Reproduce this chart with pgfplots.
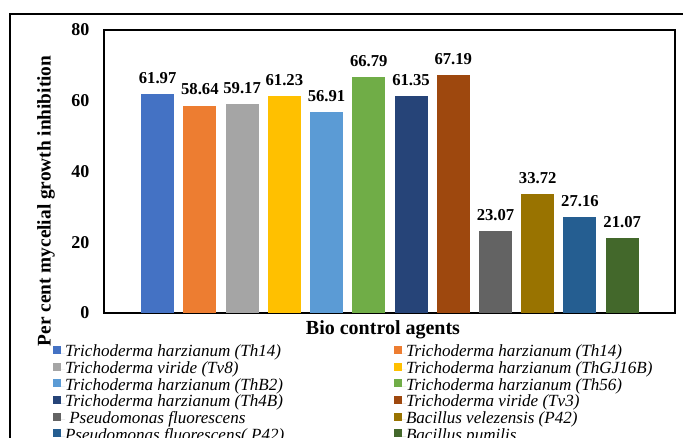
\documentclass[border=0pt]{standalone}
\usepackage{pgfplots}
\pgfplotsset{compat=1.18}
\usepackage{fontspec}
\setmainfont{Liberation Serif}
\definecolor{c1}{HTML}{4472C4}
\definecolor{c2}{HTML}{ED7D31}
\definecolor{c3}{HTML}{A5A5A5}
\definecolor{c4}{HTML}{FFC000}
\definecolor{c5}{HTML}{5B9BD5}
\definecolor{c6}{HTML}{70AD47}
\definecolor{c7}{HTML}{264478}
\definecolor{c8}{HTML}{9E480E}
\definecolor{c9}{HTML}{636363}
\definecolor{c10}{HTML}{997300}
\definecolor{c11}{HTML}{255E91}
\definecolor{c12}{HTML}{43682B}
\begin{document}
\begin{tikzpicture}
\useasboundingbox (0pt,0pt) rectangle (512.25pt,-328.5pt);
\clip (0pt,0pt) rectangle (512.25pt,-328.5pt);
\draw[line width=1.2pt] (7.5pt,-340pt) -- (7.5pt,-10.5pt) -- (520pt,-10.5pt);
\begin{axis}[
  at={(78pt,-234.75pt)}, anchor=south west,
  width=428.25pt, height=212.25pt, scale only axis,
  ybar, bar width=24.75pt, bar shift=0pt,
  xmin=-1.27, xmax=12.25, ymin=0, ymax=80,
  xtick=\empty, ytick={0,20,40,60,80},
  major tick length=0pt,
  axis line style={line width=1pt},
  /pgf/number format/assume math mode=true,
  yticklabel style={font=\bfseries\fontsize{13.5}{15}\selectfont, xshift=-7.5pt},
  nodes near coords={\pgfmathprintnumber[fixed,fixed zerofill,precision=2,assume math mode=true]{\pgfplotspointmeta}},
  every node near coord/.append style={font=\bfseries\fontsize{12.5}{14}\selectfont, anchor=base, yshift=8pt, text=black},
  legend columns=2,
  legend cell align=left,
  legend style={at={(-0.0893,-0.113)}, anchor=north west, draw=none, fill=none,
    inner sep=0pt, outer sep=0pt, row sep=0pt, column sep=0pt,
    font=\itshape\fontsize{12.8}{15}\selectfont,
    nodes={inner sep=0pt, outer sep=0pt, text height=9pt, text depth=3.5pt}},
  legend image code/.code={\fill[#1] (0pt,-0.5pt) rectangle (6pt,5.5pt); \path (0pt,0pt) -- (9pt,0pt);},
]
\addplot[fill=c1, draw=none] coordinates {(0,61.97)};
\addlegendentry{\makebox[246.75pt][l]{Trichoderma harzianum (Th14)}}
\addplot[fill=c2, draw=none] coordinates {(1,58.64)};
\addlegendentry{Trichoderma harzianum (Th14)}
\addplot[fill=c3, draw=none] coordinates {(2,59.17)};
\addlegendentry{\makebox[246.75pt][l]{Trichoderma viride (Tv8)}}
\addplot[fill=c4, draw=none] coordinates {(3,61.23)};
\addlegendentry{Trichoderma harzianum (ThGJ16B)}
\addplot[fill=c5, draw=none] coordinates {(4,56.91)};
\addlegendentry{\makebox[246.75pt][l]{Trichoderma harzianum (ThB2)}}
\addplot[fill=c6, draw=none] coordinates {(5,66.79)};
\addlegendentry{Trichoderma harzianum (Th56)}
\addplot[fill=c7, draw=none] coordinates {(6,61.35)};
\addlegendentry{\makebox[246.75pt][l]{Trichoderma harzianum (Th4B)}}
\addplot[fill=c8, draw=none] coordinates {(7,67.19)};
\addlegendentry{Trichoderma viride (Tv3)}
\addplot[fill=c9, draw=none] coordinates {(8,23.07)};
\addlegendentry{\makebox[246.75pt][l]{\ Pseudomonas fluorescens}}
\addplot[fill=c10, draw=none] coordinates {(9,33.72)};
\addlegendentry{Bacillus velezensis (P42)}
\addplot[fill=c11, draw=none] coordinates {(10,27.16)};
\addlegendentry{\makebox[246.75pt][l]{Pseudomonas fluorescens( P42)}}
\addplot[fill=c12, draw=none] coordinates {(11,21.07)};
\addlegendentry{Bacillus pumilis}
\end{axis}
\node[rotate=90, font=\bfseries\fontsize{14.5}{16}\selectfont] at (34.5pt,-150.75pt) {Per cent mycelial growth inhibition};
\node[anchor=base, font=\bfseries\fontsize{15}{17}\selectfont] at (287.25pt,-251.25pt) {Bio control agents};
\end{tikzpicture}
\end{document}
